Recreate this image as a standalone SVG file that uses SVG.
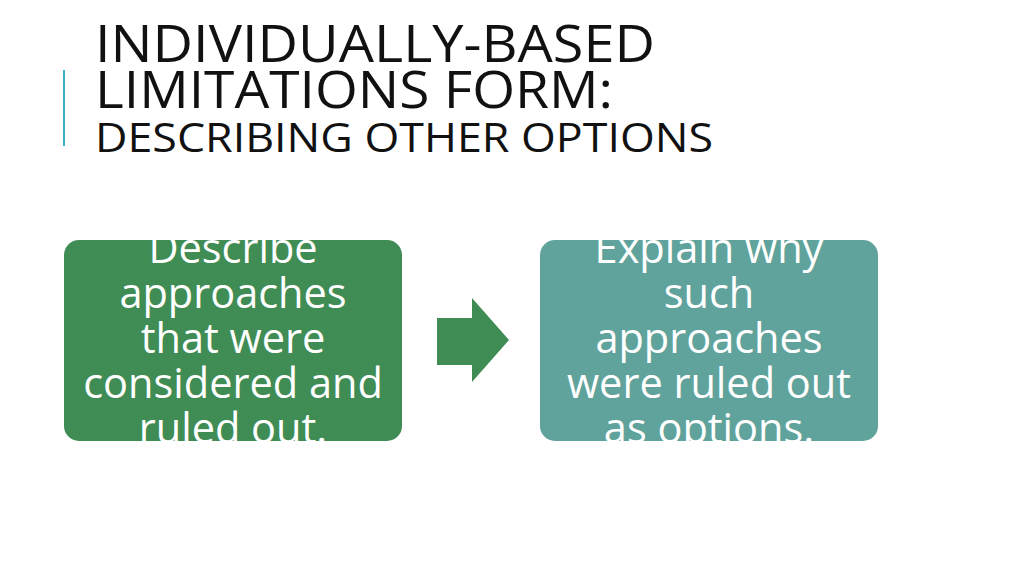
<svg xmlns="http://www.w3.org/2000/svg" width="1024" height="575" viewBox="0 0 1024 575">
<style>
.t{font-family:"Open Sans","Noto Sans",sans-serif;fill:#111}
.b{font-family:"Open Sans","Noto Sans",sans-serif;fill:#fff;font-size:41.5px;text-anchor:middle}
</style>
<defs>
<clipPath id="c1"><rect x="64" y="240" width="338" height="201" rx="15"/></clipPath>
<clipPath id="c2"><rect x="540" y="240" width="338" height="201" rx="15"/></clipPath>
</defs>
<rect width="1024" height="575" fill="#fff"/>
<rect x="63" y="70" width="2" height="76" fill="#3AAFC6"/>
<g id="title">
<text class="t" x="95" y="62" font-size="52" textLength="560" lengthAdjust="spacingAndGlyphs">INDIVIDUALLY-BASED</text>
<text class="t" x="95" y="108" font-size="52" textLength="518" lengthAdjust="spacingAndGlyphs">LIMITATIONS FORM:</text>
<text class="t" x="95" y="152" font-size="41" textLength="618" lengthAdjust="spacingAndGlyphs">DESCRIBING OTHER OPTIONS</text>
</g>
<g id="node1">
<rect x="64" y="240" width="338" height="201" rx="15" fill="#3F8C55"/>
<g clip-path="url(#c1)">
<text class="b" x="233" y="263">Describe</text>
<text class="b" x="233" y="308">approaches</text>
<text class="b" x="233" y="353">that were</text>
<text class="b" x="233" y="398">considered and</text>
<text class="b" x="233" y="443">ruled out.</text>
</g>
</g>
<g id="connectors">
<polygon points="437,318 472,318 472,298 509,340 472,382 472,365 437,365" fill="#3F8C55"/>
</g>
<g id="node2">
<rect x="540" y="240" width="338" height="201" rx="15" fill="#60A39C"/>
<g clip-path="url(#c2)">
<text class="b" x="709" y="263">Explain why</text>
<text class="b" x="709" y="308">such</text>
<text class="b" x="709" y="353">approaches</text>
<text class="b" x="709" y="398">were ruled out</text>
<text class="b" x="709" y="443">as options.</text>
</g>
</g>
</svg>
